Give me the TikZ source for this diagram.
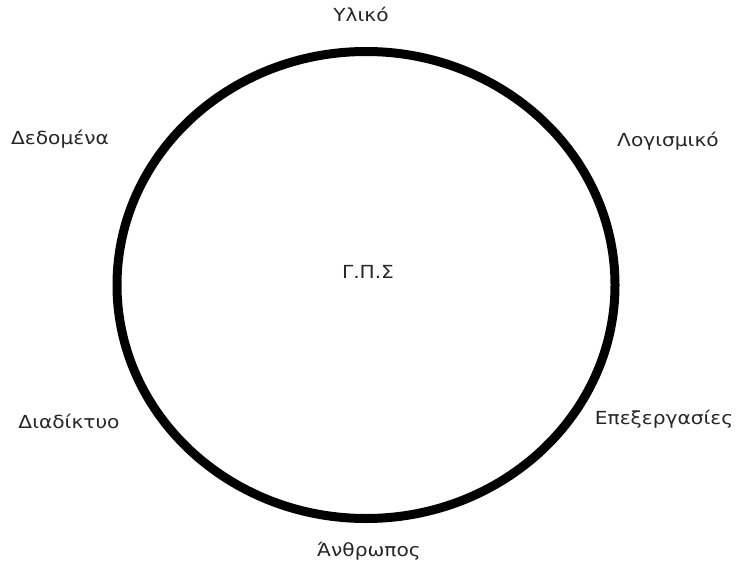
\documentclass[tikz,border=0pt]{standalone}
\usepackage{fontspec}
\setmainfont{DejaVu Sans}[FakeStretch=1.12]
\usepackage{xcolor}
\usepackage{tikz}
\definecolor{labeltext}{HTML}{262626}

\begin{document}
\begin{tikzpicture}[
  x=1pt,y=-1pt,
  font=\fontsize{18}{21}\selectfont,
  lbl/.style={anchor=base,inner sep=0pt,text=labeltext},
  ring/.style={draw=black,line width=9pt}
]
\useasboundingbox (0,0) rectangle (736,572);

% the system
\draw[ring] (366,285) ellipse [x radius=249, y radius=233.5];
\node[lbl] (gps) at (368,278) {Γ.Π.Σ};

% components round it
\node[lbl] (hw)    at (361,22)  {Υλικό};
\node[lbl] (data)  at (60,145)  {Δεδομένα};
\node[lbl] (sw)    at (668,147) {Λογισμικό};
\node[lbl] (net)   at (69,428)  {Διαδίκτυο};
\node[lbl] (proc)  at (664,424) {Επεξεργασίες};
\node[lbl] (human) at (369,556) {Άνθρωπος};
\end{tikzpicture}
\end{document}
